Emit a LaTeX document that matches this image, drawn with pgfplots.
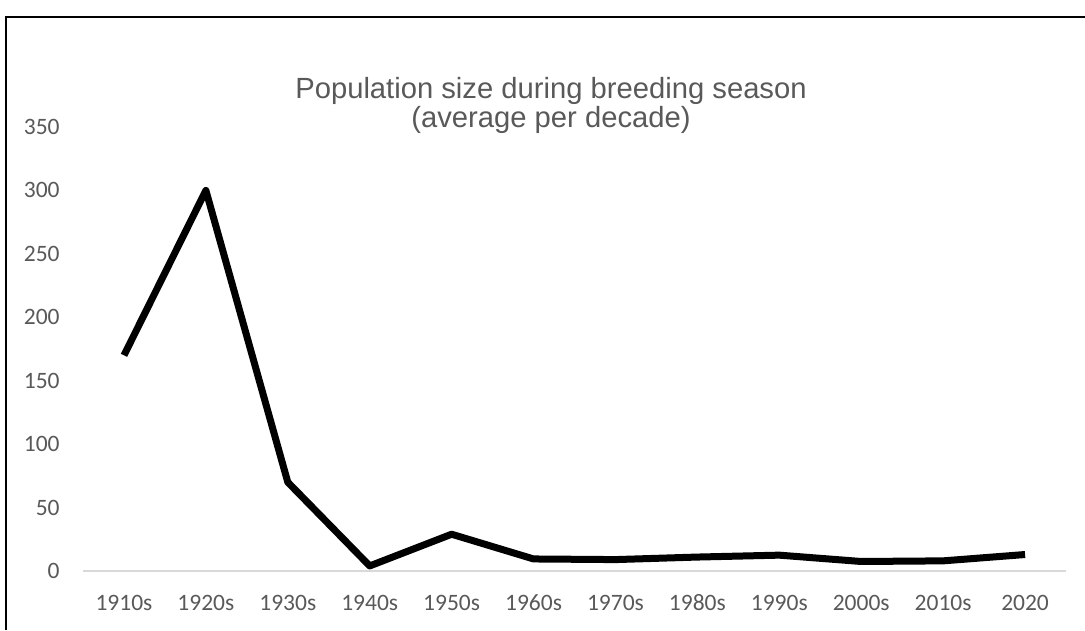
\documentclass[border=0pt]{standalone}
\usepackage{fontspec}
\setmainfont{Liberation Sans}
\newfontfamily\calibri{Carlito}
\usepackage{pgfplots}
\pgfplotsset{compat=1.18}
\definecolor{txtgray}{HTML}{595959}
\definecolor{zerogray}{HTML}{D9D9D9}

\begin{document}
\begin{tikzpicture}[x=1bp,y=1bp]
\useasboundingbox (0,0) rectangle (542.5,315);
% frame, open at right and bottom
\draw[line width=1bp] (3,0) -- (3,306.5) -- (545,306.5);

\begin{axis}[
  at={(41.5bp,29.5bp)}, anchor=south west,
  scale only axis,
  width=491.5bp, height=222bp,
  xmin=-0.5, xmax=11.5,
  ymin=0, ymax=350,
  xtick={0,...,11},
  xticklabels={1910s,1920s,1930s,1940s,1950s,1960s,1970s,1980s,1990s,2000s,2010s,2020},
  ytick={0,50,...,350},
  axis x line=bottom,
  axis y line=left,
  x axis line style={draw=zerogray, line width=1bp, -},
  y axis line style={draw=none},
  major tick length=0pt,
  tick style={draw=none},
  ticklabel style={font=\calibri\fontsize{11.75bp}{14bp}\selectfont, text=txtgray, inner sep=0pt},
  yticklabel style={anchor=east, xshift=-11.5bp},
  xticklabel style={anchor=base, yshift=-19.5bp},
  /pgf/number format/assume math mode=true,
  clip=false,
]
\addplot[black, line width=3.5bp, line join=round] coordinates {
  (0,170) (1,300) (2,70) (3,4) (4,29) (5,9.5) (6,9) (7,11) (8,12.5) (9,7.5) (10,8) (11,13)
};
\end{axis}

\node[align=center, text=txtgray, font=\fontsize{14.6bp}{14.5bp}\selectfont] at (275.5,262.5)
  {Population size during breeding season\\(average per decade)};
\end{tikzpicture}
\end{document}
